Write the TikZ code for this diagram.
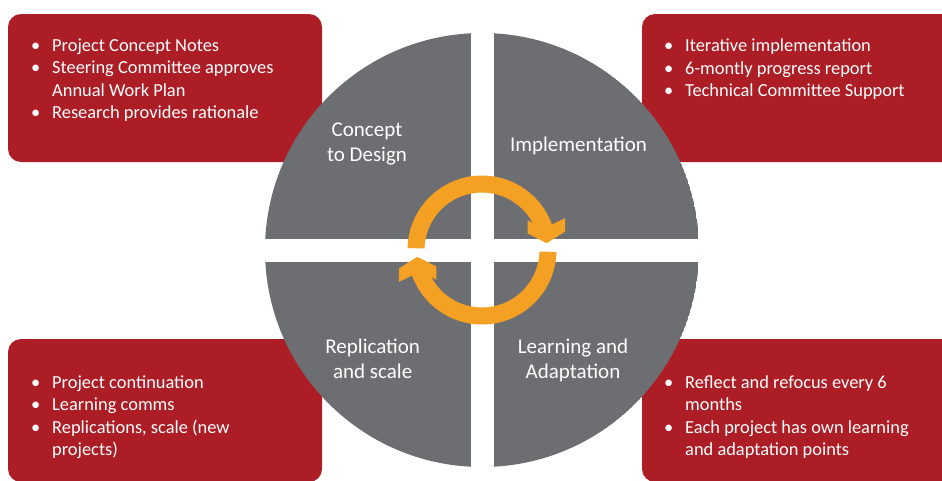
\documentclass[tikz,border=0pt]{standalone}
\usepackage{fontspec}
\setmainfont{Carlito}
\definecolor{boxred}{HTML}{AC1D25}
\definecolor{wheelgray}{HTML}{6D6E71}
\definecolor{ringorange}{HTML}{F4A023}
\tikzset{
  redbox/.style={fill=boxred, rounded corners=13pt},
  bullets/.style={anchor=base west, inner sep=0pt, text=white, font=\fontsize{18.4}{22.5}\selectfont},
  quadlabel/.style={anchor=base, inner sep=0pt, text=white, font=\fontsize{21}{25}\selectfont},
  ringfill/.style={fill=ringorange},
}
\newcommand{\blist}[1]{\begin{tabular}[t]{@{}p{21pt}@{}l@{}}#1\end{tabular}}
\newcommand{\qtext}[1]{\begin{tabular}[t]{@{}c@{}}#1\end{tabular}}
\begin{document}
\begin{tikzpicture}[x=1pt,y=1pt]
\useasboundingbox (0,0) rectangle (942,-480);
\clip (0,0) rectangle (942,-480);
% red boxes
\fill[redbox] (8,-14) rectangle (322,-162);
\fill[redbox] (642,-14) rectangle (962,-162);
\fill[redbox] (8,-339) rectangle (322,-482);
\fill[redbox] (642,-339) rectangle (962,-482);
% wheel
\begin{scope}
  \clip (482,-250) circle (217);
  \fill[wheelgray] (482,-250) circle (217);
  \fill[white] (470.5,-20) rectangle (493.5,-480);
  \fill[white] (250,-238.5) rectangle (720,-261.5);
\end{scope}
% ring arrows
\begin{scope}[shift={(482,-250)}]
  \foreach \r in {0,180} {
    \fill[ringfill, rotate=\r] (178.5:74.5) arc[start angle=178.5, end angle=20, radius=74.5]
      -- (21:89) -- (12.5:85) -- (6:65) -- (20:48.5) -- (33:54.5) -- (28:57.5)
      arc[start angle=28, end angle=178.5, radius=57.5] -- cycle;
  }
\end{scope}
% quadrant labels
\node[quadlabel] (concept) at (367,-136.7) {\qtext{Concept\\to Design}};
\node[quadlabel] (impl) at (578.5,-151.7) {\qtext{Implementation}};
\node[quadlabel] (repl) at (372.7,-353.3) {\qtext{Replication\\and scale}};
\node[quadlabel] (learn) at (573,-353.3) {\qtext{Learning and\\Adaptation}};
% bullet lists
\node[bullets] (tltext) at (31,-51) {\blist{\textbullet & Project Concept Notes\\
  \textbullet & Steering Committee approves\\
   & Annual Work Plan\\
  \textbullet & Research provides rationale}};
\node[bullets] (trtext) at (664,-51.5) {\blist{\textbullet & Iterative implementation\\
  \textbullet & 6-montly progress report\\
  \textbullet & Technical Committee Support}};
\node[bullets] (bltext) at (31,-388.3) {\blist{\textbullet & Project continuation\\
  \textbullet & Learning comms\\
  \textbullet & Replications, scale (new\\
   & projects)}};
\node[bullets] (brtext) at (664,-388.3) {\blist{\textbullet & Reflect and refocus every 6\\
   & months\\
  \textbullet & Each project has own learning\\
   & and adaptation points}};
\end{tikzpicture}
\end{document}
